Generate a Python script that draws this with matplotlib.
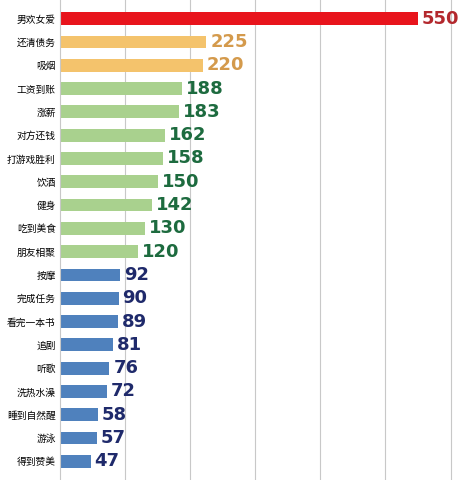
import matplotlib.pyplot as plt

plt.rcParams['font.family'] = ['Noto Sans CJK SC', 'DejaVu Sans']

labels = ["男欢女爱", "还清债务", "吸烟", "工资到账", "涨薪", "对方还钱", "打游戏胜利",
          "饮酒", "健身", "吃到美食", "朋友相聚", "按摩", "完成任务", "看完一本书",
          "追剧", "听歌", "洗热水澡", "睡到自然醒", "游泳", "得到赞美"]
values = [550, 225, 220, 188, 183, 162, 158, 150, 142, 130, 120,
          92, 90, 89, 81, 76, 72, 58, 57, 47]

def group_colors(v, i):
    if i == 0:
        return "#e8141c", "#b3282d"
    if i <= 2:
        return "#f4c36c", "#d49a4c"
    if i <= 10:
        return "#a9d18e", "#1d6b3f"
    return "#4f81bd", "#1f2a6b"

fig = plt.figure(figsize=(4.72, 4.80), dpi=100)
ax = fig.add_axes([60 / 472, 0, 412 / 472, 1])
n = len(values)
ys = list(range(n))
for i, (y, v) in enumerate(zip(ys, values)):
    bc, tc = group_colors(v, i)
    ax.barh(y, v, height=0.55, color=bc, zorder=2)
    ax.text(v + 6, y, str(v), va="center", ha="left", fontsize=13,
            fontweight="bold", color=tc, family=["DejaVu Sans"])
ax.set_ylim(n - 0.2, -0.8)
ax.set_xlim(0, 633)
ax.set_xticks([100, 200, 300, 400, 500, 600])
ax.tick_params(axis="x", length=0, labelbottom=False)
ax.grid(axis="x", color="#c8c8c8", linewidth=0.8, zorder=0)
ax.set_yticks(ys)
ax.set_yticklabels(labels, fontsize=7)
ax.tick_params(axis="y", length=0, pad=3)
for s in ["top", "right", "bottom"]:
    ax.spines[s].set_visible(False)
ax.spines["left"].set_color("#c8c8c8")

fig.savefig("out.png", dpi=100)
